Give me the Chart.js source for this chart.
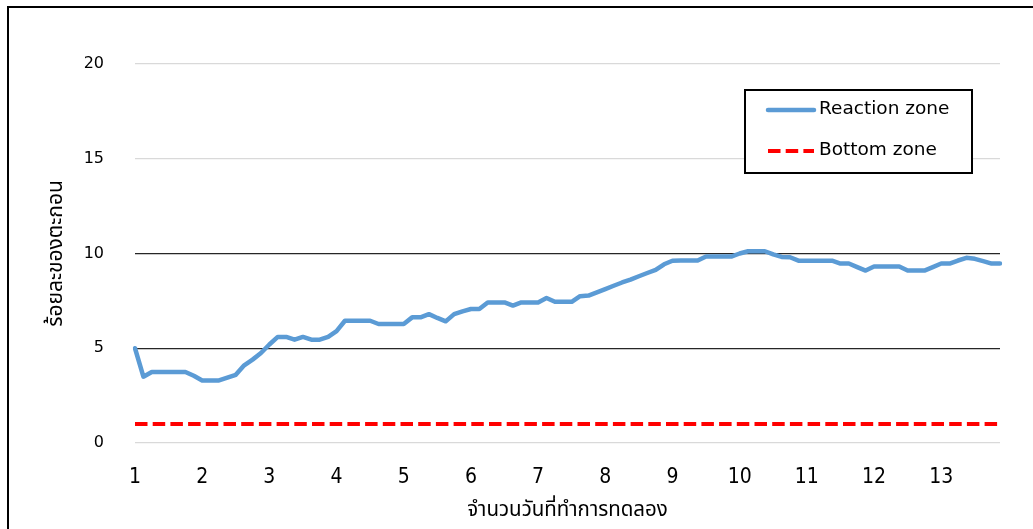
<!DOCTYPE html>
<html>
<head>
<meta charset="utf-8">
<script src="https://cdn.jsdelivr.net/npm/chart.js@4/dist/chart.umd.min.js"></script>
<style>
  html, body { margin: 0; padding: 0; background: #fff; }
  #wrap { position: relative; width: 1033px; height: 529px; }
  canvas { display: block; }
</style>
</head>
<body>
<div id="wrap"><canvas id="c" width="1033" height="529"></canvas></div>
<script>
// Day labels on the x axis (one label every samplesPerDay readings)
const dayTicks = ['1', '2', '3', '4', '5', '6', '7', '8', '9', '10', '11', '12', '13'];
const samplesPerDay = 8;

// Sediment percentage, reaction zone (8 readings per day)
const reactionZone = [
  5.0, 3.5, 3.75, 3.75, 3.75, 3.75, 3.75, 3.55,
  3.3, 3.3, 3.3, 3.45, 3.6, 4.1, 4.4, 4.75,
  5.2, 5.6, 5.6, 5.45, 5.6, 5.45, 5.45, 5.6,
  5.9, 6.45, 6.45, 6.45, 6.45, 6.28, 6.28, 6.28,
  6.28, 6.63, 6.63, 6.8, 6.6, 6.42, 6.8, 6.95,
  7.07, 7.07, 7.42, 7.42, 7.42, 7.25, 7.42, 7.42,
  7.42, 7.65, 7.45, 7.45, 7.45, 7.75, 7.78, 7.95,
  8.12, 8.3, 8.47, 8.62, 8.8, 8.97, 9.13, 9.43,
  9.62, 9.63, 9.63, 9.63, 9.84, 9.84, 9.84, 9.84,
  10.0, 10.12, 10.12, 10.12, 9.95, 9.82, 9.8, 9.62,
  9.62, 9.62, 9.62, 9.62, 9.47, 9.47, 9.28, 9.1,
  9.31, 9.31, 9.31, 9.31, 9.1, 9.1, 9.1, 9.28,
  9.47, 9.47, 9.63, 9.77, 9.72, 9.6, 9.47, 9.47
];

// Sediment percentage, bottom zone
const bottomZone = [
  1, 1, 1, 1, 1, 1, 1, 1,
  1, 1, 1, 1, 1, 1, 1, 1,
  1, 1, 1, 1, 1, 1, 1, 1,
  1, 1, 1, 1, 1, 1, 1, 1,
  1, 1, 1, 1, 1, 1, 1, 1,
  1, 1, 1, 1, 1, 1, 1, 1,
  1, 1, 1, 1, 1, 1, 1, 1,
  1, 1, 1, 1, 1, 1, 1, 1,
  1, 1, 1, 1, 1, 1, 1, 1,
  1, 1, 1, 1, 1, 1, 1, 1,
  1, 1, 1, 1, 1, 1, 1, 1,
  1, 1, 1, 1, 1, 1, 1, 1,
  1, 1, 1, 1, 1, 1, 1, 1
];

const seriesNames = ['Reaction zone', 'Bottom zone'];
const yMin = 0, yMax = 20, yStep = 5;
const xTitle = 'จำนวนวันที่ทำการทดลอง';
const yTitle = 'ร้อยละของตะกอน';

const sampleLabels = reactionZone.map((_, i) => String(i));

// White background plus the frame lines along the top and left
const framePlugin = {
  id: 'frame',
  beforeDraw(chart) {
    const ctx = chart.ctx;
    ctx.save();
    ctx.fillStyle = '#ffffff';
    ctx.fillRect(0, 0, chart.width, chart.height);
    ctx.strokeStyle = '#000000';
    ctx.lineWidth = 2;
    ctx.beginPath();
    ctx.moveTo(8, chart.height);
    ctx.lineTo(8, 7);
    ctx.lineTo(chart.width, 7);
    ctx.stroke();
    ctx.restore();
  }
};

// Boxed legend inside the plot, built from the datasets
const boxLegendPlugin = {
  id: 'boxLegend',
  afterDraw(chart) {
    const ctx = chart.ctx;
    const bx = 745, by = 90, bw = 227, bh = 83;
    ctx.save();
    ctx.fillStyle = '#ffffff';
    ctx.fillRect(bx, by, bw, bh);
    ctx.strokeStyle = '#000000';
    ctx.lineWidth = 2;
    ctx.strokeRect(bx, by, bw, bh);
    const rows = [110, 151];
    chart.data.datasets.forEach((ds, k) => {
      const y = rows[k];
      ctx.strokeStyle = ds.borderColor;
      ctx.lineWidth = ds.borderWidth;
      ctx.setLineDash(ds.borderDash || []);
      ctx.lineCap = ds.borderDash ? 'butt' : 'round';
      ctx.beginPath();
      ctx.moveTo(768, y);
      ctx.lineTo(814, y);
      ctx.stroke();
      ctx.setLineDash([]);
      ctx.fillStyle = '#000000';
      ctx.font = '18.5px "DejaVu Sans", Verdana, sans-serif';
      ctx.textBaseline = 'middle';
      ctx.textAlign = 'left';
      ctx.fillText(ds.label, 819, y - 1);
    });
    ctx.restore();
  }
};

new Chart(document.getElementById('c'), {
  type: 'line',
  data: {
    labels: sampleLabels,
    datasets: [
      {
        label: seriesNames[0],
        data: reactionZone,
        borderColor: '#5b9bd5',
        borderWidth: 4.5,
        borderJoinStyle: 'round',
        borderCapStyle: 'round',
        pointRadius: 0,
        tension: 0,
        fill: false
      },
      {
        label: seriesNames[1],
        data: bottomZone,
        borderColor: '#ff0000',
        borderWidth: 4,
        borderDash: [12.5, 5.2],
        borderCapStyle: 'butt',
        pointRadius: 0,
        tension: 0,
        fill: false
      }
    ]
  },
  options: {
    responsive: false,
    animation: false,
    devicePixelRatio: 1,
    layout: { padding: { top: 64, right: 33, left: 0, bottom: 0 } },
    plugins: {
      legend: { display: false },
      tooltip: { enabled: false }
    },
    scales: {
      x: {
        type: 'category',
        offset: false,
        grid: { display: false, drawTicks: false },
        border: { display: false },
        ticks: {
          autoSkip: false,
          maxRotation: 0,
          minRotation: 0,
          padding: 22,
          color: '#000000',
          font: { family: '"Liberation Sans Narrow", "DejaVu Sans Condensed", sans-serif', size: 21 },
          callback: (value, index) => (index % samplesPerDay === 0 ? dayTicks[index / samplesPerDay] : '')
        },
        title: {
          display: true,
          text: xTitle,
          color: '#000000',
          font: { family: '"Noto Sans Thai", "Noto Sans", "DejaVu Sans", sans-serif', size: 20.5 },
          padding: { top: 0, bottom: 5 }
        },
        afterFit(scale) { scale.height = 86; }
      },
      y: {
        min: yMin,
        max: yMax,
        grid: {
          drawTicks: false,
          lineWidth: 1.2,
          color: (ctx) => ((ctx.tick && (ctx.tick.value === 5 || ctx.tick.value === 10)) ? '#262626' : '#d9d9d9')
        },
        border: { display: false },
        ticks: {
          stepSize: yStep,
          padding: 31,
          color: '#000000',
          font: { family: '"DejaVu Sans", Verdana, sans-serif', size: 16 }
        },
        title: {
          display: true,
          text: yTitle,
          color: '#000000',
          font: { family: '"Noto Sans Thai", "Noto Sans", "DejaVu Sans", sans-serif', size: 21 },
          padding: { top: 45, bottom: 0 }
        },
        afterFit(scale) { scale.width = 135; }
      }
    }
  },
  plugins: [framePlugin, boxLegendPlugin]
});
</script>
</body>
</html>
